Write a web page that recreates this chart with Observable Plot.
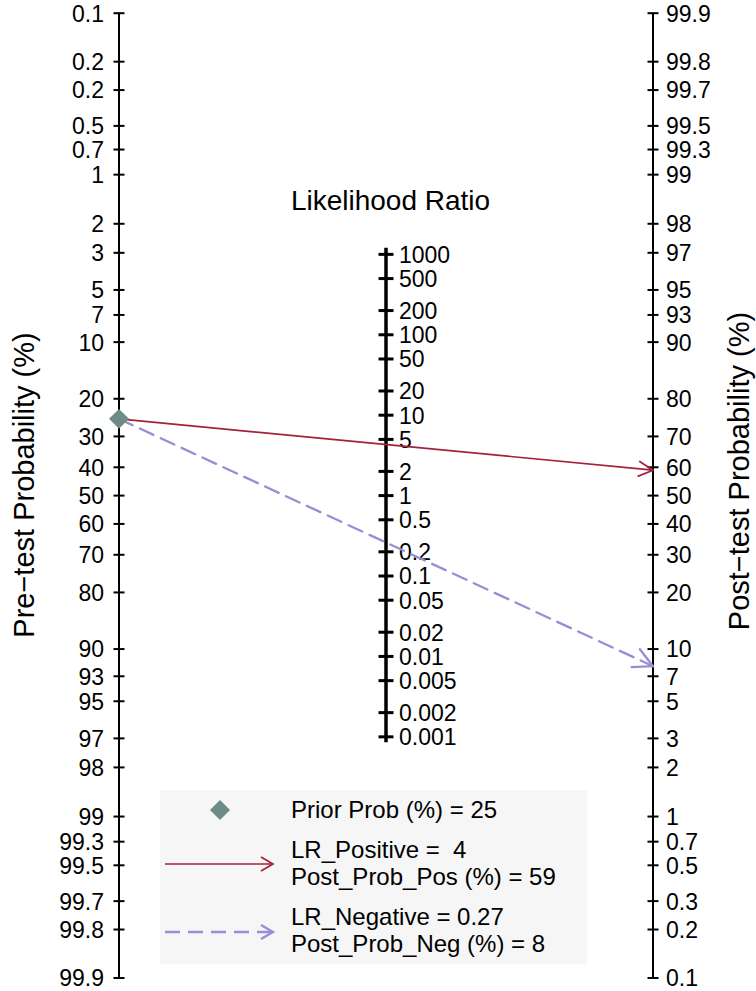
<!DOCTYPE html>
<html>
<head>
<meta charset="utf-8">
<script src="https://cdn.jsdelivr.net/npm/d3@7"></script>
<script src="https://cdn.jsdelivr.net/npm/@observablehq/plot@0.6"></script>
<style>
  html, body { margin: 0; padding: 0; background: #ffffff; }
  #chart { width: 756px; height: 991px; }
  svg text { white-space: pre; }
</style>
</head>
<body>
<div id="chart"></div>
<script>
// ---- Data ----
const priorProb = 25;          // %
const lrPositive = 4;
const lrNegative = 0.27;
const postProbPos = 59;        // %
const postProbNeg = 8;         // %

const probTicks = [0.1, 0.2, 0.3, 0.5, 0.7, 1, 2, 3, 5, 7, 10, 20, 30, 40, 50, 60, 70, 80, 90, 93, 95, 97, 98, 99, 99.3, 99.5, 99.7, 99.8, 99.9];
const preTickLabels = ["0.1", "0.2", "0.2", "0.5", "0.7", "1", "2", "3", "5", "7", "10", "20", "30", "40", "50", "60", "70", "80", "90", "93", "95", "97", "98", "99", "99.3", "99.5", "99.7", "99.8", "99.9"];
const postTickLabels = ["0.1", "0.2", "0.3", "0.5", "0.7", "1", "2", "3", "5", "7", "10", "20", "30", "40", "50", "60", "70", "80", "90", "93", "95", "97", "98", "99", "99.3", "99.5", "99.7", "99.8", "99.9"];
const lrTicks = [1000, 500, 200, 100, 50, 20, 10, 5, 2, 1, 0.5, 0.2, 0.1, 0.05, 0.02, 0.01, 0.005, 0.002, 0.001];
const lrTickLabels = ["1000", "500", "200", "100", "50", "20", "10", "5", "2", "1", "0.5", "0.2", "0.1", "0.05", "0.02", "0.01", "0.005", "0.002", "0.001"];

const titles = {pre: "Pre\u2212test Probability (%)", post: "Post\u2212test Probability (%)", lr: "Likelihood Ratio"};
const legendLines = [
  ["Prior Prob (%) = 25"],
  ["LR_Positive =  4", "Post_Prob_Pos (%) = 59"],
  ["LR_Negative = 0.27", "Post_Prob_Neg (%) = 8"]
];

// ---- Styling ----
const FONT = "'Liberation Sans', Arial, Helvetica, sans-serif";
const RED = "#a3213a";
const PURPLE = "#998ed6";
const DIAMOND = "#6e8b87";

// ---- Nomogram transforms ----
const logit = p => Math.log((p / 100) / (1 - p / 100));
const preY = p => logit(p);          // left axis
const postY = p => -logit(p);        // right axis
const lrY = lr => -Math.log(lr) / 2; // middle axis
const L = logit(99.9);
const LRMAX = Math.log(1000) / 2;

const tickSymbol = {
  draw(context, size) {
    const w = Math.sqrt(size / Math.PI);
    context.moveTo(-w, 0);
    context.lineTo(w, 0);
  }
};

const lines = [
  {name: "pos", pre: priorProb, post: postProbPos},
  {name: "neg", pre: priorProb, post: postProbNeg}
];

const chart = Plot.plot({
  width: 756,
  height: 991,
  margin: 0,
  x: {domain: [0, 1], range: [118.5, 652.5], axis: null},
  y: {domain: [-L, L], range: [12.7, 977.5], axis: null},
  style: {fontFamily: FONT, fontSize: "23px", background: "#ffffff", color: "#000"},
  marks: [
    // axis lines
    Plot.ruleX([0, 1], {x: d => d, y1: -L, y2: L, stroke: "#000", strokeWidth: 2}),
    Plot.ruleX([0.5], {x: d => d, y1: -LRMAX, y2: LRMAX, stroke: "#000", strokeWidth: 3.5, insetTop: -6, insetBottom: -6}),
    // ticks
    Plot.dot(probTicks, {x: 0, y: preY, symbol: tickSymbol, r: 5.5, fill: "none", stroke: "#000", strokeWidth: 2}),
    Plot.dot(probTicks, {x: 1, y: postY, symbol: tickSymbol, r: 5.5, fill: "none", stroke: "#000", strokeWidth: 2}),
    Plot.dot(lrTicks, {x: 0.5, y: lrY, symbol: tickSymbol, r: 7.5, fill: "none", stroke: "#000", strokeWidth: 3}),
    // tick labels
    Plot.text(probTicks, {x: 0, y: preY, text: (d, i) => preTickLabels[i], textAnchor: "end", dx: -15, dy: 1, fontSize: 23, fill: "#000"}),
    Plot.text(probTicks, {x: 1, y: postY, text: (d, i) => postTickLabels[i], textAnchor: "start", dx: 13, dy: 1, fontSize: 23, fill: "#000"}),
    Plot.text(lrTicks, {x: 0.5, y: lrY, text: (d, i) => lrTickLabels[i], textAnchor: "start", dx: 13, dy: 1, fontSize: 23, fill: "#000"}),
    // titles
    Plot.text([titles.pre], {frameAnchor: "left", textAnchor: "middle", lineAnchor: "middle", rotate: -90, dx: 24, dy: -11, fontSize: 29, fill: "#000"}),
    Plot.text([titles.post], {frameAnchor: "right", textAnchor: "middle", lineAnchor: "middle", rotate: -90, dx: -17, dy: -25, fontSize: 29, fill: "#000"}),
    Plot.text([titles.lr], {frameAnchor: "top", textAnchor: "middle", lineAnchor: "middle", dx: 12, dy: 201, fontSize: 28, fill: "#000"}),
    // positive LR line
    Plot.arrow(lines.filter(d => d.name === "pos"), {
      x1: 0, y1: d => preY(d.pre), x2: 1, y2: d => postY(d.post),
      stroke: RED, strokeWidth: 1.7, headLength: 14, headAngle: 55
    }),
    // negative LR line (dashed)
    Plot.arrow(lines.filter(d => d.name === "neg"), {
      x1: 0, y1: d => preY(d.pre), x2: 1, y2: d => postY(d.post),
      stroke: PURPLE, strokeWidth: 2.3, strokeDasharray: "15,8", headLength: 14, headAngle: 55,
      className: "neg-arrow"
    }),
    // prior probability marker
    Plot.dot([priorProb], {x: 0, y: preY, symbol: "diamond2", r: 9, fill: DIAMOND, stroke: "none"})
  ]
});

document.getElementById("chart").appendChild(chart);

// Make the dashed arrow's head solid: split the head part into its own path.
(function () {
  const p = chart.querySelector(".neg-arrow path");
  if (!p) return;
  const d = p.getAttribute("d");
  const cmds = d.match(/[MLAmla][^MLAmla]*/g);
  if (!cmds || cmds.length < 3) return;
  const nums = cmds[1].trim().slice(1).split(/[ ,]+/).filter(s => s.length).map(Number);
  const ex = nums[nums.length - 2], ey = nums[nums.length - 1];
  const lineD = cmds[0] + cmds[1];
  const headD = "M" + ex + "," + ey + cmds.slice(2).join("");
  p.setAttribute("d", lineD);
  const h = p.cloneNode(false);
  h.setAttribute("d", headD);
  h.setAttribute("stroke-dasharray", "none");
  p.parentNode.appendChild(h);
})();

// ---- Legend (inside the plot area, bottom) ----
const lg = d3.select(chart).append("g")
  .attr("font-family", FONT)
  .attr("font-size", 24)
  .attr("text-anchor", "start")
  .attr("fill", "#000");
lg.append("rect").attr("x", 160).attr("y", 790).attr("width", 427).attr("height", 174).attr("fill", "#f6f6f6");

// diamond
lg.append("path").attr("d", "M220,800L230,810L220,820L210,810Z").attr("fill", DIAMOND);
// red arrow
lg.append("path").attr("d", "M165,864H273").attr("stroke", RED).attr("stroke-width", 1.7).attr("fill", "none");
lg.append("path").attr("d", "M261,857L273,864L261,871").attr("stroke", RED).attr("stroke-width", 1.7).attr("fill", "none");
// purple dashed arrow
lg.append("path").attr("d", "M165,932H272").attr("stroke", PURPLE).attr("stroke-width", 2.3).attr("stroke-dasharray", "15,8").attr("fill", "none");
lg.append("path").attr("d", "M261,925L273,932L261,939").attr("stroke", PURPLE).attr("stroke-width", 2.3).attr("fill", "none");

const baselines = [[818], [858, 885], [925, 952]];
legendLines.forEach((rows, i) => {
  rows.forEach((t, j) => {
    lg.append("text").attr("x", 291).attr("y", baselines[i][j]).attr("text-anchor", "start").style("white-space", "pre").text(t);
  });
});
</script>
</body>
</html>
